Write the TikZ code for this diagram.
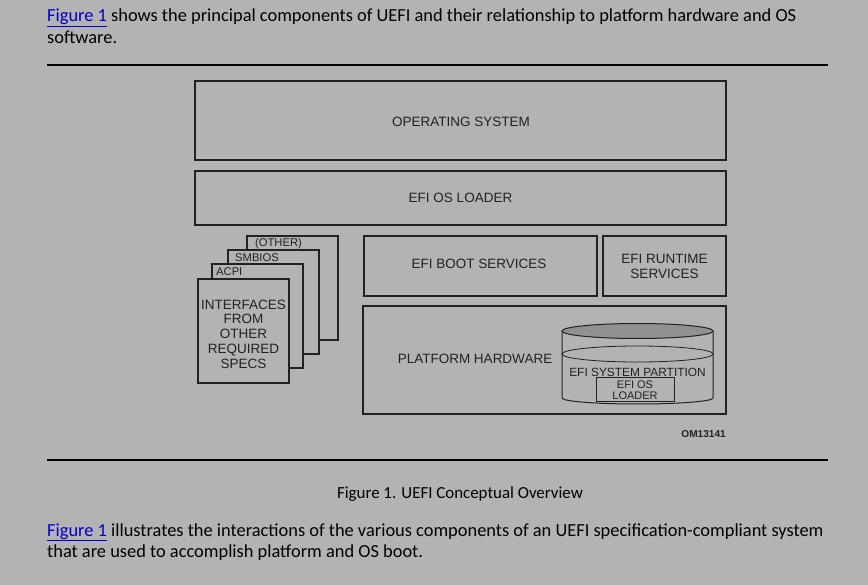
\documentclass[tikz,border=0pt]{standalone}
\usepackage{fontspec}
\setmainfont{Carlito}
\newfontfamily\arialfont{Liberation Sans}
\definecolor{pagegray}{RGB}{179,179,179}
\definecolor{linkblue}{RGB}{0,0,204}
\definecolor{topgray}{RGB}{145,145,145}
\definecolor{inkdark}{RGB}{34,34,34}
\newcommand{\flink}[1]{\textcolor{linkblue}{\underline{#1}}}
\begin{document}
\begin{tikzpicture}[x=1pt,y=-1pt,
  layer/.style={draw=inkdark,line width=1.4pt,fill=pagegray,inner sep=0pt,
    font=\arialfont\fontsize{13.5}{15}\selectfont,text=inkdark,align=center},
  card/.style={layer,minimum width=91pt,minimum height=104pt},
  cardtag/.style={anchor=base west,inner sep=0pt,font=\arialfont\fontsize{11.2}{13}\selectfont,text=inkdark},
  bodytext/.style={anchor=base west,inner sep=0pt,font=\fontsize{18.4}{22}\selectfont}]
\useasboundingbox[fill=pagegray] (0,0) rectangle (868,585);

% text above
\path (47,22) node[bodytext] (intro1) {\flink{Figure 1} shows the principal components of UEFI and their relationship to platform hardware and OS};
\path (47,44) node[bodytext] (intro2) {software.};
\draw[line width=2pt] (47,65) -- (828,65);

% main layers
\path (460.5,120.5) node[layer,minimum width=531pt,minimum height=79pt] (os) {};
\path (461,122) node[inner sep=0pt,font=\arialfont\fontsize{13.5}{15}\selectfont,text=inkdark] (ostext) {OPERATING SYSTEM};
\path (460.5,198) node[layer,minimum width=531pt,minimum height=54pt] (loader) {EFI OS LOADER};
\path (480.5,266) node[layer,minimum width=233pt,minimum height=60pt] (boot) {};
\path (479,264) node[inner sep=0pt,font=\arialfont\fontsize{13.5}{15}\selectfont,text=inkdark] (boottext) {EFI BOOT SERVICES};
\path (664.5,266) node[layer,minimum width=123pt,minimum height=60pt] (runtime) {EFI RUNTIME\\[0pt]SERVICES};
\path (544.5,360) node[layer,minimum width=363pt,minimum height=108pt] (hw) {};
\path (475,359) node[inner sep=0pt,font=\arialfont\fontsize{13.5}{15}\selectfont,text=inkdark] (hwtext) {PLATFORM HARDWARE};

% stacked specs
\path (292.5,288) node[card] (other) {};
\path (255,247) node[cardtag] {(OTHER)};
\path (273.5,302) node[card] (smbios) {};
\path (235,262) node[cardtag] {SMBIOS};
\path (257.5,316) node[card] (acpi) {};
\path (216,276) node[cardtag] {ACPI};
\path (243.5,331) node[card] (specs) {};
\path (243.5,334) node[inner sep=0pt,align=center,font=\arialfont\fontsize{13.5}{14.8}\selectfont,text=inkdark] (specstext) {INTERFACES\\FROM\\OTHER\\REQUIRED\\SPECS};

% system partition
\draw[inkdark,line width=1pt] (562,331) -- (562,398) arc[start angle=180,end angle=360,x radius=75.5pt,y radius=6pt] -- (713,331);
\draw[inkdark,line width=1pt,fill=topgray] (637.5,331) ellipse[x radius=75.5pt,y radius=7.5pt];
\draw[inkdark,line width=0.8pt] (637.5,354) ellipse[x radius=75.5pt,y radius=8pt];
\path (637.5,372) node[inner sep=0pt,font=\arialfont\fontsize{11.9}{13}\selectfont,text=inkdark] (esp) {EFI SYSTEM PARTITION};
\path (635,390) node[draw=inkdark,line width=1pt,minimum width=78pt,minimum height=24pt,inner sep=0pt,align=center,
  font=\arialfont\fontsize{11}{11}\selectfont,text=inkdark] (esploader) {EFI OS\\LOADER};
\path (726,434) node[anchor=east,inner sep=0pt,font=\arialfont\bfseries\fontsize{10.1}{11}\selectfont,text=inkdark] (tag) {OM13141};

% text below
\draw[line width=2pt] (47,460) -- (828,460);
\path (460,498) node[anchor=base,inner sep=0pt,font=\fontsize{16.9}{20}\selectfont] (caption) {Figure 1. UEFI Conceptual Overview};
\path (47,536) node[bodytext] (outro1) {\flink{Figure 1} illustrates the interactions of the various components of an UEFI specification-compliant system};
\path (47,557) node[bodytext] (outro2) {that are used to accomplish platform and OS boot.};
\end{tikzpicture}
\end{document}
